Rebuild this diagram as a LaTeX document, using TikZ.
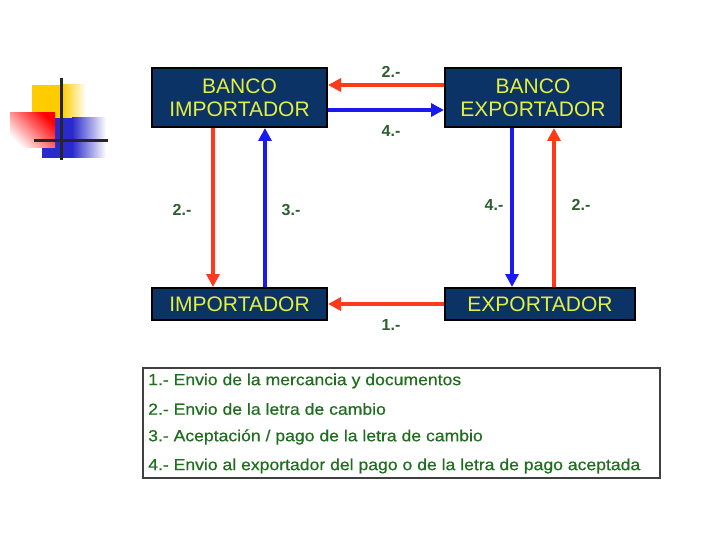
\documentclass[tikz,border=0pt]{standalone}
\usepackage{fontspec}
\setmainfont{Liberation Sans}
\newfontfamily\legfont[FakeStretch=1.1,FakeBold=0.6]{Liberation Sans}
\usetikzlibrary{arrows.meta}
\definecolor{navy}{HTML}{0B3366}
\definecolor{boxtxt}{HTML}{E4F03C}
\definecolor{arred}{HTML}{FF3A1A}
\definecolor{arblue}{HTML}{1A1AF0}
\definecolor{lblgreen}{HTML}{2E5E2E}
\definecolor{leggreen}{HTML}{1E6E1E}
\definecolor{decoyel}{HTML}{FFCC00}
\definecolor{decoblue}{HTML}{2A2ACC}
\tikzset{
  actor/.style={draw=black, line width=2pt, fill=navy, text=boxtxt,
    font=\fontsize{21}{23}\selectfont, align=center, inner sep=0pt},
  redarrow/.style={draw=arred, line width=3.5pt, -{Triangle[width=13pt,length=13pt]}},
  bluearrow/.style={draw=arblue, line width=3.5pt, -{Triangle[width=13pt,length=13pt]}},
  flowlbl/.style={text=lblgreen, font=\bfseries\fontsize{16}{18}\selectfont},
  legline/.style={text=leggreen, font=\legfont\fontsize{16}{18}\selectfont, anchor=west, inner sep=0pt},
  deco/.style={draw=black!85, line width=3pt}
}
\begin{document}
\begin{tikzpicture}[x=1pt,y=-1pt]
\useasboundingbox (0,0) rectangle (720,540);
% decoration
\fill[decoyel] (32,85) rectangle (62,118);
\shade[left color=decoyel, right color=white] (62,85) rectangle (86,118);
\fill[decoblue] (42,118) rectangle (72,158);
\shade[left color=decoblue, right color=white] (72,118) rectangle (106,158);
\shade[shading=axis, top color=red, bottom color=white, shading angle=-45] (10,113) rectangle (55,148);
\draw[deco] (61,78) -- (61,160);
\draw[deco] (34,141) -- (108,141);
% actors
\node[actor, minimum width=175pt, minimum height=59pt] (bi) at (239.5,97.5) {BANCO\\IMPORTADOR};
\node[actor, minimum width=176pt, minimum height=59pt] (be) at (533,97.5) {BANCO\\EXPORTADOR};
\node[actor, minimum width=175pt, minimum height=32pt] (im) at (239.5,304) {IMPORTADOR};
\node[actor, minimum width=190pt, minimum height=32pt] (ex) at (540,304) {EXPORTADOR};
% arrows
\draw[redarrow] (be.west |- 0,85) -- (bi.east |- 0,85);
\draw[bluearrow] (bi.east |- 0,110) -- (be.west |- 0,110);
\draw[redarrow] (bi.south -| 213,0) -- (im.north -| 213,0);
\draw[bluearrow] (im.north -| 265,0) -- (bi.south -| 265,0);
\draw[bluearrow] (be.south -| 512,0) -- (ex.north -| 512,0);
\draw[redarrow] (ex.north -| 554,0) -- (be.south -| 554,0);
\draw[redarrow] (ex.west) -- (im.east);
% labels
\node[flowlbl] (l1) at (391,72) {2.-};
\node[flowlbl] (l2) at (391,131) {4.-};
\node[flowlbl] (l3) at (182,210) {2.-};
\node[flowlbl] (l4) at (291,210) {3.-};
\node[flowlbl] (l5) at (494,205) {4.-};
\node[flowlbl] (l6) at (581,205) {2.-};
\node[flowlbl] (l7) at (391,325) {1.-};
% legend
\node[draw=black!75, line width=2.5pt, minimum width=517pt, minimum height=110pt, inner sep=0pt] (leg) at (401.5,423) {};
\node[legline] (t1) at (148,381) {1.- Envio de la mercancia y documentos};
\node[legline] (t2) at (148,409) {2.- Envio de la letra de cambio};
\node[legline] (t3) at (148,437) {3.- Aceptación / pago de la letra de cambio};
\node[legline] (t4) at (148,466) {4.- Envio al exportador del pago o de la letra de pago aceptada};
\end{tikzpicture}
\end{document}
